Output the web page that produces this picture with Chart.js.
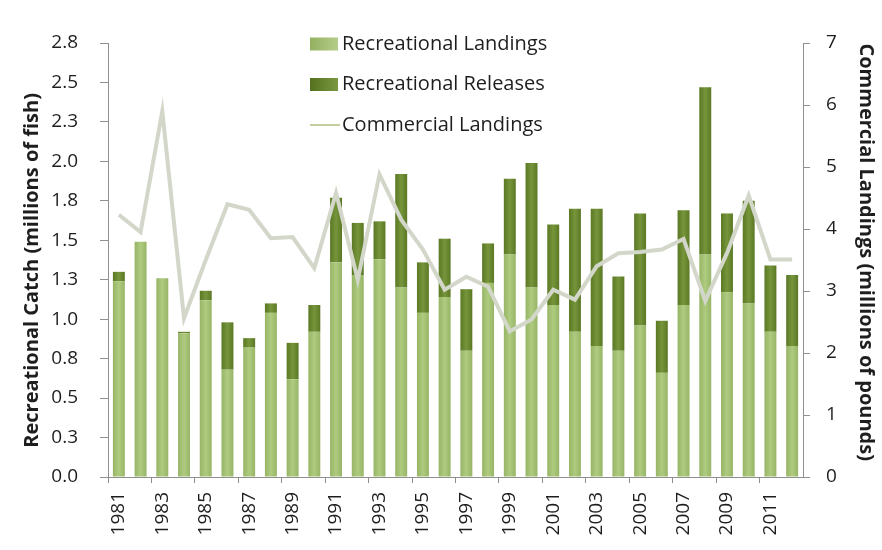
<!DOCTYPE html>
<html>
<head>
<meta charset="utf-8">
<script src="https://cdn.jsdelivr.net/npm/chart.js@4.4.0/dist/chart.umd.min.js"></script>
<style>
  html, body { margin: 0; padding: 0; background: #fff; }
</style>
</head>
<body>
<canvas id="grafico" width="882" height="550"></canvas>
<script>
// Datos (millones de peces / millones de libras)
const years = ['1981','1982','1983','1984','1985','1986','1987','1988','1989','1990',
               '1991','1992','1993','1994','1995','1996','1997','1998','1999','2000',
               '2001','2002','2003','2004','2005','2006','2007','2008','2009','2010',
               '2011','2012'];

const recLandings = [1.24, 1.49, 1.26, 0.91, 1.12, 0.68, 0.82, 1.04, 0.62, 0.92,
                     1.36, 1.28, 1.38, 1.20, 1.04, 1.14, 0.80, 1.23, 1.41, 1.20,
                     1.09, 0.92, 0.83, 0.80, 0.96, 0.66, 1.09, 1.41, 1.17, 1.10,
                     0.92, 0.83];

const recReleases = [0.06, 0.00, 0.00, 0.01, 0.06, 0.30, 0.06, 0.06, 0.23, 0.17,
                     0.41, 0.33, 0.24, 0.72, 0.32, 0.37, 0.39, 0.25, 0.48, 0.79,
                     0.51, 0.78, 0.87, 0.47, 0.71, 0.33, 0.60, 1.06, 0.50, 0.65,
                     0.42, 0.45];

const commLandings = [4.23, 3.95, 5.90, 2.56, 3.50, 4.40, 4.31, 3.85, 3.87, 3.37,
                      4.58, 3.18, 4.88, 4.15, 3.67, 3.02, 3.23, 3.07, 2.35, 2.54,
                      3.02, 2.86, 3.40, 3.61, 3.63, 3.67, 3.84, 2.84, 3.61, 4.54,
                      3.51, 3.51];

const leftMax  = 2.75;   // se rotula 2.8
const leftStep = 0.25;
const rightMax  = 7;
const rightStep = 1;

const FONT = '"Open Sans", "Liberation Sans", sans-serif';
const GRIS = '#8f8f8f';

// degradado horizontal tipo Excel para cada barra
function gradBarra(centro, borde) {
  return (c) => {
    const sx = c.chart.scales.x;
    if (!sx || c.dataIndex === undefined) return centro;
    const cx = sx.getPixelForValue(c.dataIndex);
    if (!isFinite(cx)) return centro;
    const g = c.chart.ctx.createLinearGradient(cx - 6, 0, cx + 6, 0);
    g.addColorStop(0, borde);
    g.addColorStop(0.5, centro);
    g.addColorStop(1, borde);
    return g;
  };
}

const legendItems = [
  { text: 'Recreational Landings', tipo: 'caja',  c1: '#b4cd8a', c2: '#93b05f' },
  { text: 'Recreational Releases', tipo: 'caja',  c1: '#7a9840', c2: '#55711f' },
  { text: 'Commercial Landings',   tipo: 'linea', c1: '#c2cf9e' }
];

const leyenda = {
  id: 'leyenda',
  afterDraw(chart) {
    const ctx = chart.ctx;
    ctx.save();
    ctx.font = '20px ' + FONT;
    ctx.textBaseline = 'middle';
    ctx.textAlign = 'left';
    legendItems.forEach((it, i) => {
      const y = 44 + i * 40.5;
      if (it.tipo === 'caja') {
        const g = ctx.createLinearGradient(310, 0, 338, 0);
        g.addColorStop(0, it.c2);
        g.addColorStop(1, it.c1);
        ctx.fillStyle = g;
        ctx.fillRect(310, y - 6.5, 28, 13);
      } else {
        ctx.strokeStyle = it.c1;
        ctx.lineWidth = 2;
        ctx.beginPath();
        ctx.moveTo(310, y);
        ctx.lineTo(340, y);
        ctx.stroke();
      }
      ctx.fillStyle = '#1e1e1e';
      ctx.fillText(it.text, 342, y);
    });
    ctx.restore();
  }
};

new Chart(document.getElementById('grafico'), {
  type: 'bar',
  data: {
    labels: years,
    datasets: [
      {
        type: 'line',
        label: 'Commercial Landings',
        data: commLandings,
        yAxisID: 'y1',
        borderColor: '#d2d7ca',
        borderWidth: 4,
        pointRadius: 0,
        tension: 0,
        order: 0
      },
      {
        label: 'Recreational Landings',
        data: recLandings,
        yAxisID: 'y',
        stack: 'rec',
        backgroundColor: gradBarra('#aecb80', '#97b565'),
        barPercentage: 0.55,
        categoryPercentage: 1,
        order: 1
      },
      {
        label: 'Recreational Releases',
        data: recReleases,
        yAxisID: 'y',
        stack: 'rec',
        backgroundColor: gradBarra('#76953b', '#5b7824'),
        barPercentage: 0.55,
        categoryPercentage: 1,
        order: 1
      }
    ]
  },
  options: {
    responsive: false,
    animation: false,
    layout: { padding: { top: 43, left: 0, right: 0, bottom: 0 } },
    plugins: {
      legend: { display: false },
      tooltip: { enabled: false }
    },
    scales: {
      x: {
        stacked: true,
        afterFit: s => { s.height = 73; },
        border: { color: GRIS },
        grid: {
          drawOnChartArea: false,
          tickLength: 6,
          tickColor: c => (c.index % 2 === 0 ? GRIS : 'rgba(0,0,0,0)')
        },
        ticks: {
          autoSkip: false,
          minRotation: 90,
          maxRotation: 90,
          padding: 9,
          color: '#1e1e1e',
          font: { family: FONT, size: 19 },
          callback: (v, i) => (i % 2 === 0 ? years[i] : '')
        }
      },
      y: {
        stacked: true,
        position: 'left',
        min: 0,
        max: leftMax,
        afterFit: s => { s.width = 108; },
        border: { color: GRIS },
        grid: { drawOnChartArea: false, tickLength: 8, tickColor: GRIS },
        ticks: {
          stepSize: leftStep,
          padding: 22,
          color: '#1e1e1e',
          font: { family: FONT, size: 19 },
          callback: v => v.toFixed(1)
        },
        title: {
          display: true,
          text: 'Recreational Catch (millions of fish)    ',
          color: '#1e1e1e',
          font: { family: FONT, size: 20, weight: 'bold' },
          padding: { top: 20, bottom: 0 }
        }
      },
      y1: {
        position: 'right',
        min: 0,
        max: rightMax,
        afterFit: s => { s.width = 79; },
        border: { color: GRIS },
        grid: { drawOnChartArea: false, tickLength: 7, tickColor: GRIS },
        ticks: {
          stepSize: rightStep,
          padding: 16,
          color: '#1e1e1e',
          font: { family: FONT, size: 19 }
        },
        title: {
          display: true,
          text: 'Commercial Landings (millions of pounds)   ',
          color: '#1e1e1e',
          font: { family: FONT, size: 20, weight: 'bold' },
          padding: { top: 4, bottom: 0 }
        }
      }
    }
  },
  plugins: [leyenda]
});
</script>
</body>
</html>
